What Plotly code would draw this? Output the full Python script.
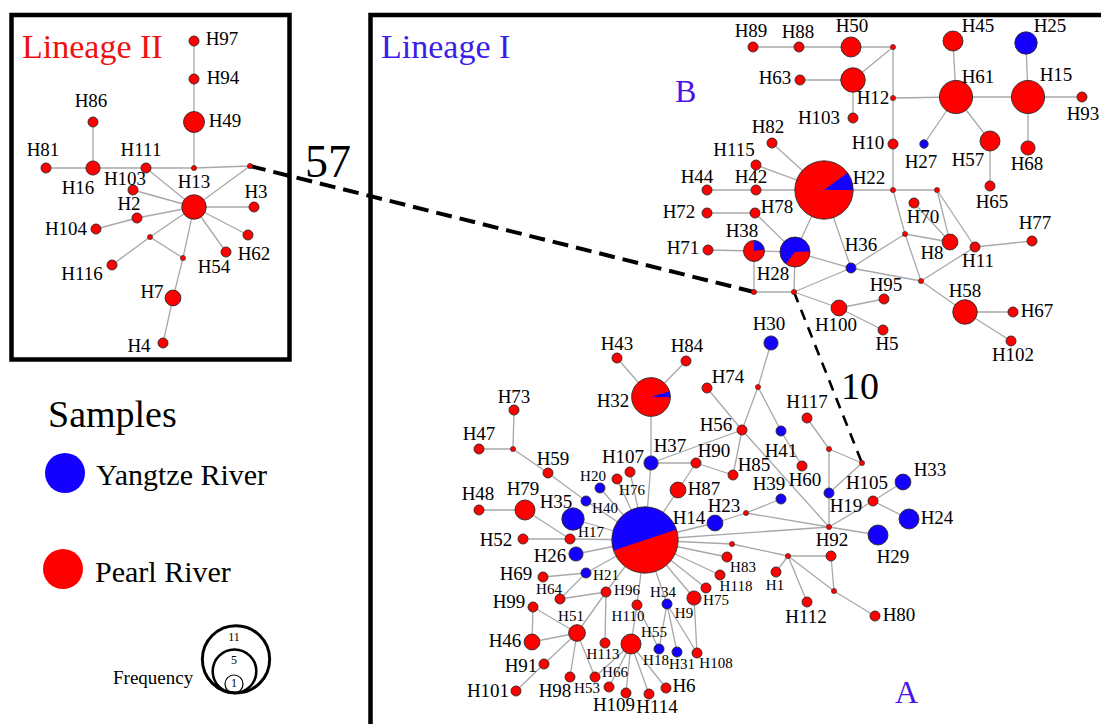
import math
import plotly.graph_objects as go

# ---------------- data: haplotype network ----------------
# Lineage II nodes (frequency 0 = median vector)
l2_id = ["H97", "H94", "H49", "mvL1", "H86", "H16", "H81", "H111", "mvL2", "H13", "H103b",
         "H2", "H104", "H3", "H62", "H54", "mvL3", "mvL4", "H116", "H7", "H4"]
l2_x = [194, 194, 194, 194, 93, 93, 46, 146, 250, 194, 133, 137, 96, 254, 248, 226, 150, 183, 112, 173, 163]
l2_y = [41, 79, 122, 168, 122, 168, 168, 168, 166, 207, 190, 218, 229, 207, 235, 252, 237, 258, 265, 298, 343]
l2_freq = [1, 1, 4.4, 0, 1, 2, 1, 1, 0, 6, 1, 1, 1, 1, 1, 1, 0, 0, 1, 2.5, 1]

# Lineage I, group B
b_id = ["H89", "H88", "H50", "mv1", "H63", "H12", "H103", "mv2", "H45", "H25", "H61", "H15", "H93", "H68",
        "H57", "H65", "H27", "H10", "mv3", "mv4", "H82", "H115", "H42", "H44", "H72", "H71", "H78", "H22",
        "H38", "H28", "H36", "mv5", "mv6", "H100", "H95", "H5", "mv7", "H8", "H70", "H11", "H77", "mv8",
        "H58", "H67", "H102"]
b_x = [753, 799, 851, 893, 800, 853, 853, 893, 953, 1026, 956, 1028, 1082, 1028, 990, 990, 924, 893, 893, 937,
       772, 756, 756, 707, 707, 708, 755, 824, 754, 795, 851, 754, 794, 839, 884, 883, 905, 950, 914, 975,
       1032, 921, 965, 1013, 1011]
b_y = [47, 47, 47, 47, 80, 80, 118, 98, 41, 43, 97, 97, 97, 148, 141, 186, 144, 144, 190, 190,
       143, 165, 190, 190, 213, 250, 213, 190, 251, 252, 268, 292, 292, 308, 299, 330, 234, 242, 203, 247,
       241, 281, 312, 312, 341]
b_freq = [1, 1, 4, 0, 1, 6, 1, 0, 4, 5, 11, 11, 1, 2, 4, 1, 0.7, 1, 0, 0,
          1, 1, 1, 1, 1, 1, 1, 34, 4.4, 9, 1, 0, 0, 2.5, 1, 1, 0, 2.5, 1, 1,
          1, 0, 6, 1, 1]

# Lineage I, group A
a_id = ["H30", "mv9", "H74", "H56", "H43", "H84", "H32", "H37", "H107", "H90", "H85", "H87", "H20", "H76",
        "H40", "H73", "mv10", "H47", "H59", "H79", "H48", "H35", "H14", "H17", "H52", "H26", "H23", "mv11",
        "mv12", "H39", "mv16", "mv13", "H1", "H69", "H21", "H64", "H96", "n1", "H83", "H118", "H75", "H110",
        "H34", "H99", "H51", "H46", "H113", "H55", "H18", "H31", "H108", "H91", "H101", "H98", "H66", "H53",
        "H109", "H114", "H6", "H117", "H41", "H60", "mv14", "mv15", "H19", "H105", "H33", "H24", "H29",
        "H92", "mv17", "H112", "H80"]
a_x = [771, 758, 707, 742, 617, 686, 651, 651, 630, 696, 733, 678, 600, 617,
       586, 514, 513, 479, 548, 525, 479, 573, 645, 570, 523, 576, 715, 746,
       732, 781, 829, 788, 776, 543, 586, 560, 606, 727, 720, 706, 694, 637,
       667, 533, 577, 532, 605, 631, 659, 677, 697, 544, 516, 570, 595, 609,
       626, 649, 666, 807, 781, 802, 829, 862, 829, 873, 903, 909, 878,
       831, 834, 807, 875]
a_y = [343, 387, 388, 430, 358, 361, 397, 463, 472, 463, 475, 490, 488, 479,
       501, 410, 449, 449, 473, 510, 510, 519, 540, 539, 539, 554, 523, 513,
       544, 499, 527, 556, 572, 577, 573, 599, 592, 557, 575, 588, 598, 605,
       604, 607, 633, 642, 643, 644, 649, 652, 653, 664, 691, 677, 677, 687,
       693, 694, 688, 418, 431, 466, 449, 463, 493, 501, 482, 519, 535,
       556, 591, 602, 616]
a_freq = [2, 0, 1, 1, 1, 1, 15, 2, 1, 1, 1, 2.5, 1, 1,
          1, 1, 0, 1, 1, 4, 1, 5, 44, 1, 1, 2, 2.5, 0,
          0, 1, 0, 0, 1, 1, 1, 1, 1, 1, 1, 1, 2, 1,
          1, 1, 2.8, 2.5, 1, 4, 1, 1, 1, 1, 1, 1, 1, 1,
          1, 1, 1, 1, 1, 1, 0, 0, 1, 1, 2.5, 4, 4,
          1, 0, 1, 1]

# share of Yangtze River samples in each haplotype (others: Pearl River only)
yangtze_share = {"H25": 1, "H27": 1, "H22": 0.1, "H38": 0.23, "H28": 0.64, "H36": 1, "H30": 1,
                 "H32": 0.05, "H37": 1, "H20": 1, "H40": 1, "H35": 1, "H14": 0.5, "H26": 1,
                 "H23": 1, "H39": 1, "H21": 1, "H34": 1, "H18": 1, "H31": 1, "H41": 1, "H19": 1,
                 "H33": 1, "H24": 1, "H29": 1}

edges = [
    ("H97", "H94"), ("H94", "H49"), ("H49", "mvL1"), ("H81", "H16"), ("H16", "H86"), ("H16", "H111"),
    ("H111", "mvL1"), ("mvL1", "mvL2"), ("H111", "H13"), ("H13", "mvL2"), ("H13", "H103b"), ("H13", "H2"),
    ("H2", "H104"), ("H13", "H3"), ("H13", "H62"), ("H13", "H54"), ("H13", "mvL3"), ("mvL3", "H116"),
    ("mvL3", "mvL4"), ("H13", "mvL4"), ("mvL4", "H7"), ("H7", "H4"),
    ("H89", "H88"), ("H88", "H50"), ("H50", "mv1"), ("mv1", "H12"), ("mv1", "mv2"), ("H63", "H12"),
    ("H12", "H103"), ("mv2", "H61"), ("H61", "H15"), ("H61", "H45"), ("H61", "H27"), ("H61", "H57"),
    ("H57", "H65"), ("H15", "H25"), ("H15", "H93"), ("H15", "H68"), ("mv2", "H10"), ("H10", "mv3"),
    ("H22", "mv3"), ("mv3", "mv4"), ("mv3", "mv7"), ("mv7", "mv8"), ("mv4", "H8"), ("mv4", "H11"),
    ("H70", "H8"), ("mv7", "H8"), ("mv7", "H36"), ("H11", "mv8"), ("H11", "H77"), ("H36", "mv8"),
    ("H28", "H36"), ("mv8", "H58"), ("H58", "H67"), ("H58", "H102"), ("H22", "H28"), ("H22", "H36"),
    ("H22", "H82"), ("H22", "H115"), ("H22", "H42"), ("H42", "H44"), ("H78", "H72"), ("H78", "H28"),
    ("H71", "H38"), ("H38", "H28"), ("H38", "mv5"), ("mv5", "mv6"), ("H28", "mv6"), ("mv6", "H36"),
    ("mv6", "H100"), ("H100", "H95"), ("H100", "H5"),
    ("H30", "mv9"), ("mv9", "H56"), ("mv9", "H41"), ("H41", "H60"), ("H74", "H56"), ("H56", "H37"),
    ("H56", "H85"), ("H56", "mv16"), ("H37", "H90"), ("H90", "H85"), ("H90", "H87"), ("H37", "H32"),
    ("H37", "H14"), ("H32", "H43"), ("H32", "H84"), ("H14", "H107"), ("H14", "H76"), ("H14", "H20"),
    ("H14", "H40"), ("H40", "H59"), ("H59", "mv10"), ("mv10", "H47"), ("mv10", "H73"), ("H14", "H35"),
    ("H14", "H17"), ("H17", "H52"), ("H17", "H79"), ("H79", "H48"), ("H14", "H26"), ("H14", "H21"),
    ("H21", "H69"), ("H21", "H64"), ("H64", "H96"), ("H96", "H14"), ("H96", "H51"), ("H96", "H113"),
    ("H14", "H110"), ("H110", "H55"), ("H110", "H18"), ("H14", "H34"), ("H34", "H18"), ("H34", "H31"),
    ("H34", "H108"), ("H108", "H75"), ("H14", "H75"), ("H14", "H118"), ("H14", "H83"), ("H14", "n1"),
    ("H14", "mv12"), ("mv12", "mv13"), ("mv13", "H1"), ("H14", "H87"), ("H14", "H23"), ("H23", "mv11"),
    ("mv11", "H39"), ("mv11", "mv16"), ("H14", "mv16"), ("mv13", "H92"), ("mv13", "H112"),
    ("mv13", "mv17"), ("H92", "mv17"), ("mv17", "H80"), ("mv16", "H19"), ("H19", "mv14"),
    ("mv14", "H117"), ("mv14", "mv15"), ("mv15", "H19"), ("mv16", "H105"), ("H105", "H33"),
    ("H105", "H24"), ("mv16", "H29"), ("H51", "H99"), ("H51", "H46"), ("H99", "H46"), ("H51", "H91"),
    ("H91", "H101"), ("H51", "H98"), ("H51", "H66"), ("H55", "H66"), ("H55", "H53"), ("H55", "H109"),
    ("H55", "H114"), ("H55", "H6"),
]
# long links with number of mutational steps
long_links = [("mvL2", "mv5", "57"), ("mv6", "mv15", "10")]

# haplotype labels
lab_text = ["H97", "H94", "H49", "H86", "H81", "H16", "H111", "H103", "H13", "H3", "H2", "H104", "H62",
            "H54", "H116", "H7", "H4",
            "H89", "H88", "H50", "H63", "H12", "H103", "H82", "H115", "H42", "H44", "H72", "H71", "H78",
            "H38", "H28", "H22", "H10", "H27", "H57", "H68", "H65", "H45", "H25", "H61", "H15", "H93",
            "H70", "H36", "H8", "H11", "H77", "H95", "H100", "H5", "H58", "H67", "H102", "H30",
            "H43", "H84", "H32", "H73", "H47", "H59", "H74", "H56", "H37", "H107", "H90", "H85", "H87",
            "H79", "H48", "H35", "H14", "H23", "H52", "H26", "H69", "H99", "H46", "H91", "H101", "H98",
            "H6", "H109", "H114", "H117", "H41", "H60", "H39", "H105", "H33", "H19", "H24", "H92", "H29",
            "H112", "H80"]
lab_x = [222, 223, 225, 91, 43, 78, 141, 125, 194, 256, 129, 66, 254, 214, 82, 152, 139,
         751, 798, 852, 775, 873, 819, 768, 734, 751, 697, 679, 683, 777, 742, 773, 869, 868, 921, 968,
         1027, 992, 978, 1050, 978, 1056, 1083, 923, 861, 932, 978, 1035, 886, 836, 887, 965, 1037, 1013,
         769,
         617, 687, 613, 514, 479, 553, 728, 716, 670, 623, 714, 754, 704, 523, 478, 556, 689, 724, 496,
         550, 516, 509, 505, 521, 488, 555, 684, 614, 657, 807, 781, 805, 769, 867, 930, 846, 937, 832,
         893, 806, 899]
lab_y = [40, 79, 122, 102, 151, 189, 151, 180, 183, 193, 205, 230, 255, 268, 275, 293, 347,
         32, 33, 27, 79, 99, 119, 128, 151, 178, 178, 213, 249, 208, 232, 275, 179, 144, 163, 161,
         165, 203, 27, 27, 78, 76, 115, 218, 246, 254, 262, 224, 286, 326, 345, 292, 312, 356,
         325,
         345, 347, 402, 398, 435, 460, 378, 426, 447, 458, 452, 466, 490, 490, 495, 503, 519, 507, 541,
         557, 575, 603, 642, 667, 692, 692, 687, 706, 708, 403, 452, 481, 485, 484, 471, 507, 519, 541,
         558, 618, 616]
# smaller haplotype labels in the crowded part of group A
slab_text = ["H20", "H76", "H40", "H17", "H21", "H64", "H96", "H83", "H118", "H75", "H34", "H9", "H110",
             "H51", "H55", "H113", "H18", "H31", "H108", "H66", "H53", "H1"]
slab_x = [593, 632, 605, 591, 606, 549, 627, 743, 736, 716, 663, 684, 628, 571, 654, 603, 656, 682, 716,
          615, 587, 775]
slab_y = [477, 491, 509, 533, 576, 590, 591, 568, 587, 601, 593, 614, 617, 617, 633, 655, 661, 665, 664,
          673, 689, 586]

legend_freq = [11, 5, 1]

# ---------------- styling ----------------
RED = "#ff0000"
BLUE = "#1400ff"
EDGE = "#a8a8a8"
OUTLINE = "#2a2a2a"
FONT = "Liberation Serif, Times New Roman, serif"
W, H = 1101, 724

node_id = l2_id + b_id + a_id
node_x = l2_x + b_x + a_x
node_y = l2_y + b_y + a_y
node_freq = l2_freq + b_freq + a_freq
assert len(node_id) == len(node_x) == len(node_y) == len(node_freq)
pos = {n: (x, y) for n, x, y in zip(node_id, node_x, node_y)}
pie_start = {"H22": 0, "H38": 8, "H28": 2, "H32": -1, "H14": 18.5}


def radius(f):
    return 2.6 if f == 0 else 5.0 * math.sqrt(f)


fig = go.Figure()

# edges
ex, ey = [], []
for a, b in edges:
    ex += [pos[a][0], pos[b][0], None]
    ey += [pos[a][1], pos[b][1], None]
fig.add_trace(go.Scatter(x=ex, y=ey, mode="lines", line=dict(color=EDGE, width=1.3),
                         hoverinfo="skip"))

# dashed long links
for (a, b, steps), wdt, dash in zip(long_links, [4, 2.6], ["16px,8px", "11px,8px"]):
    fig.add_trace(go.Scatter(x=[pos[a][0], pos[b][0]], y=[pos[a][1], pos[b][1]], mode="lines",
                             line=dict(color="black", width=wdt, dash=dash), hoverinfo="skip"))


def arc(cx, cy, r, a0, a1, center=True, n=80):
    xs, ys = ([cx], [cy]) if center else ([], [])
    for k in range(n + 1):
        t = math.radians(a0 + (a1 - a0) * k / n)
        xs.append(cx + r * math.cos(t))
        ys.append(cy - r * math.sin(t))
    if center:
        xs.append(cx)
        ys.append(cy)
    return xs, ys


# pies for mixed haplotypes
rx, ry, bx, by = [], [], [], []
for n, x, y, f in zip(node_id, node_x, node_y, node_freq):
    s = yangtze_share.get(n, 0)
    if 0 < s < 1:
        r = radius(f)
        cx_, cy_ = arc(x, y, r, 0, 360, center=False)
        rx += cx_ + [None]
        ry += cy_ + [None]
        a0 = pie_start[n]
        wx, wy = arc(x, y, r, a0, a0 + 360 * s)
        bx += wx + [None]
        by += wy + [None]
fig.add_trace(go.Scatter(x=rx, y=ry, mode="lines", fill="toself", fillcolor=RED,
                         line=dict(width=0, color=RED), hoverinfo="skip"))
fig.add_trace(go.Scatter(x=bx, y=by, mode="lines", fill="toself", fillcolor=BLUE,
                         line=dict(width=0, color=BLUE), hoverinfo="skip"))

# node markers
mx, my, ms, mc, mlw = [], [], [], [], []
for n, x, y, f in zip(node_id, node_x, node_y, node_freq):
    s = yangtze_share.get(n, 0)
    mx.append(x)
    my.append(y)
    ms.append(2 * radius(f))
    if 0 < s < 1:
        mc.append("rgba(0,0,0,0)")
    else:
        mc.append(BLUE if s == 1 else RED)
    mlw.append(0.6 if f == 0 else 0.9)
fig.add_trace(go.Scatter(x=mx, y=my, mode="markers", text=node_id, hoverinfo="text",
                         marker=dict(size=ms, color=mc, opacity=1,
                                     line=dict(color=OUTLINE, width=mlw))))

# labels
fig.add_trace(go.Scatter(x=lab_x, y=lab_y, mode="text", text=lab_text, textposition="middle center",
                         cliponaxis=False,
                         textfont=dict(family=FONT, size=19, color="black"), hoverinfo="skip"))
fig.add_trace(go.Scatter(x=slab_x, y=slab_y, mode="text", text=slab_text, textposition="middle center",
                         cliponaxis=False,
                         textfont=dict(family=FONT, size=15, color="black"), hoverinfo="skip"))

# legend: samples
fig.add_trace(go.Scatter(x=[65, 63], y=[473, 569], mode="markers", hoverinfo="skip",
                         marker=dict(size=40, color=[BLUE, RED], opacity=1, line=dict(width=0))))
# legend: frequency circles (tangent at the bottom)
base_y = 693
lr = [9 * f ** 0.55 for f in legend_freq]
fig.add_trace(go.Scatter(x=[236, 234.5, 234], y=[base_y - r for r in lr], mode="markers",
                         hoverinfo="skip",
                         marker=dict(size=[2 * r for r in lr], color="rgba(0,0,0,0)", opacity=1,
                                     line=dict(color="black", width=[3, 2.5, 1.2]))))
fig.add_trace(go.Scatter(x=[234, 234, 234], y=[base_y - 2 * lr[0] + 12, base_y - 2 * lr[1] + 12, base_y - 9],
                         mode="text", text=[str(f) for f in legend_freq], hoverinfo="skip",
                         textfont=dict(family=FONT, size=12, color="black")))

# boxes
fig.add_shape(type="rect", x0=11.5, y0=15, x1=289.5, y1=359.5, line=dict(color="black", width=4.5))
fig.add_shape(type="rect", x0=370.5, y0=15, x1=1130, y1=760, line=dict(color="black", width=4.5))


def note(text, x, y, size, color="black", xanchor="center"):
    fig.add_annotation(x=x, y=y, text=text, showarrow=False, xanchor=xanchor, yanchor="middle",
                       font=dict(family=FONT, size=size, color=color))


note("Lineage II", 20, 46, 34, "#f01010", "left")
note("Lineage I", 379, 46, 34, "#3a1ee8", "left")
note("B", 685, 91, 32, "#4a14e6")
note("A", 906, 692, 32, "#4a14e6")
note(long_links[0][2], 328, 161, 46)
note(long_links[1][2], 860, 386, 38)
note("Samples", 46, 414, 38, xanchor="left")
note("Yangtze River", 94, 474, 30, xanchor="left")
note("Pearl River", 93, 571, 30, xanchor="left")
note("Frequency", 153, 677, 19)

fig.update_layout(width=W, height=H, margin=dict(l=0, r=0, t=0, b=0),
                  showlegend=False, paper_bgcolor="white", plot_bgcolor="white", hovermode=False,
                  xaxis=dict(range=[0, W], visible=False, fixedrange=True),
                  yaxis=dict(range=[H, 0], visible=False, fixedrange=True))
# remove the default page margin so the figure fills the browser window exactly
fig.write_html("out.html", config={"displayModeBar": False, "staticPlot": True},
               post_script="document.body.style.margin='0';document.body.style.overflow='hidden';")
